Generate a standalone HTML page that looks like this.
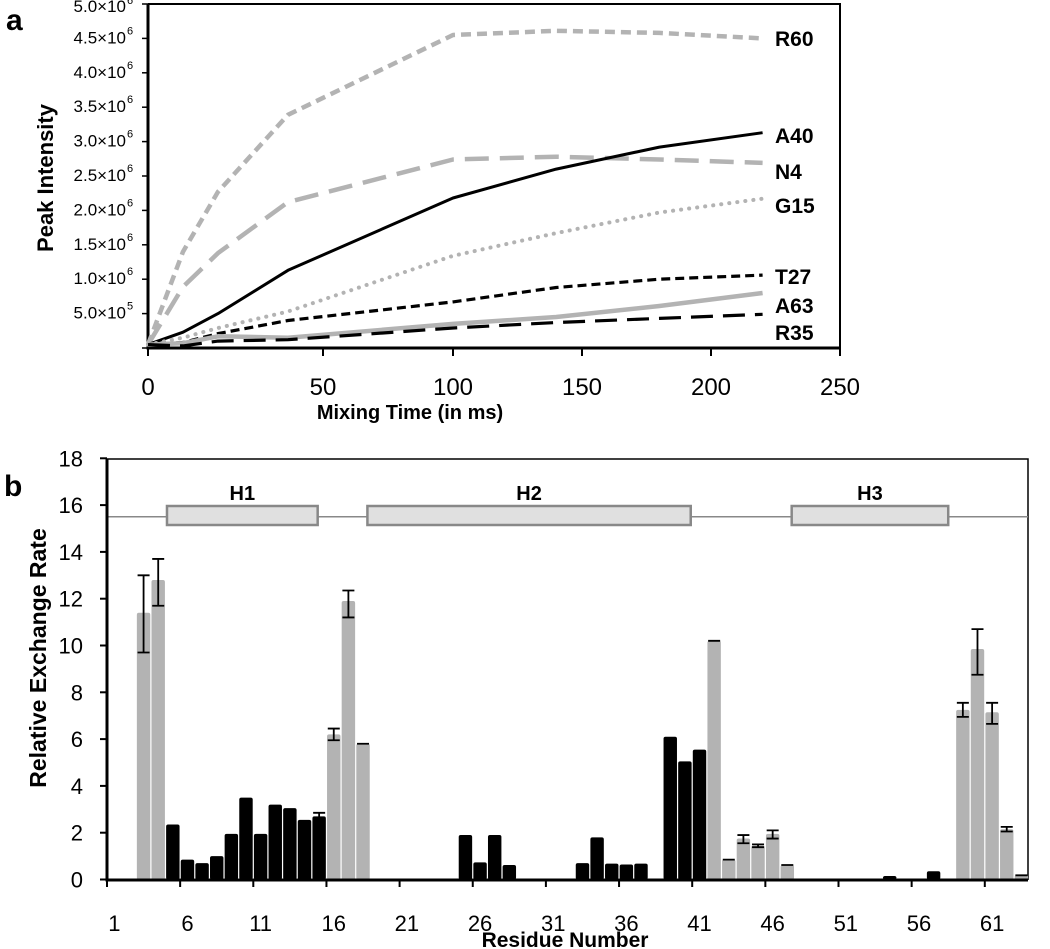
<!DOCTYPE html>
<html><head><meta charset="utf-8"><style>
body{margin:0;background:#fff}
svg{display:block}
text{font-family:"Liberation Sans",Arial,sans-serif}
</style></head><body>
<svg id="chart" width="1050" height="949" viewBox="0 0 1050 949" xmlns="http://www.w3.org/2000/svg">
<text x="6" y="30" font-size="30" font-weight="bold">a</text>
<text x="4" y="496" font-size="30" font-weight="bold">b</text>
<g id="pa"></g>
<g id="pb"></g>
</svg>
<script>
// ---------- Panel a data ----------
const timesA = [0, 10, 20, 40, 100, 140, 180, 220];
const seriesNames = ["R60", "N4", "A40", "G15", "T27", "A63", "R35"];
const valR60 = [0.05, 1.4, 2.27, 3.39, 4.55, 4.61, 4.58, 4.5];
const valN4 = [0.05, 0.89, 1.38, 2.12, 2.74, 2.78, 2.74, 2.69];
const valA40 = [0.05, 0.23, 0.5, 1.13, 2.18, 2.6, 2.92, 3.13];
const valG15 = [0.05, 0.15, 0.29, 0.53, 1.34, 1.67, 1.97, 2.17];
const valT27 = [0.05, 0.08, 0.21, 0.4, 0.67, 0.88, 1.0, 1.06];
const valA63 = [0.05, 0.07, 0.17, 0.15, 0.35, 0.45, 0.61, 0.8];
const valR35 = [0.05, 0.03, 0.1, 0.12, 0.29, 0.37, 0.43, 0.49];
const xTicksA = [0, 50, 100, 150, 200, 250];
const yTicksA = ["5.0×10", "1.0×10", "1.5×10", "2.0×10", "2.5×10", "3.0×10", "3.5×10", "4.0×10", "4.5×10", "5.0×10"];
const yTickValsA = [0.5, 1, 1.5, 2, 2.5, 3, 3.5, 4, 4.5, 5];

// ---------- Panel b data ----------
const residues = [];
for (let r = 1; r <= 63; r++) residues.push(r);
const grayRes = [3,4,16,17,18,42,43,44,45,46,47,59,60,61,62,63];
const rateVals = [0,0,11.4,12.8,2.35,0.85,0.7,1.0,1.95,3.5,1.95,3.2,3.05,2.55,2.7,6.2,11.9,5.8,0,0,0,0,0,0,1.9,0.73,1.9,0.62,0,0,0,0,0.7,1.8,0.68,0.64,0.68,0,6.1,5.05,5.55,10.2,0.85,1.75,1.45,1.95,0.62,0,0,0,0,0,0,0.15,0,0,0.35,0,7.25,9.85,7.15,2.15,0.18];
const errLo = {3:9.7,4:11.7,16:5.95,17:11.2,18:5.8,42:10.2,43:0.85,44:1.55,45:1.38,46:1.75,47:0.62,59:6.95,60:8.75,61:6.65,62:2.05,63:0.18,15:2.65};
const errHi = {3:13.0,4:13.7,16:6.45,17:12.35,18:5.8,42:10.2,43:0.85,44:1.9,45:1.5,46:2.1,47:0.62,59:7.55,60:10.7,61:7.55,62:2.25,63:0.18,15:2.85};
const xTickLabelsB = [1,6,11,16,21,26,31,36,41,46,51,56,61];
const yTicksB = [0,2,4,6,8,10,12,14,16,18];
const helixNames = ["H1","H2","H3"];
const helixStart = [5.1, 18.8, 47.8];
const helixEnd = [15.4, 40.9, 58.5];

const NS = "http://www.w3.org/2000/svg";
function mk(parent, tag, attrs, txt){const e=document.createElementNS(NS,tag);for(const k in attrs)e.setAttribute(k,attrs[k]);if(txt!==undefined)e.textContent=txt;parent.appendChild(e);return e;}

// ---------- Panel a ----------
const pa = document.getElementById('pa');
const knotV=[0,50,100,150,200,250], knotP=[148,323,453,582,711,840];
function xA(t){for(let i=0;i<knotV.length-1;i++){if(t<=knotV[i+1]){return knotP[i]+(t-knotV[i])/(knotV[i+1]-knotV[i])*(knotP[i+1]-knotP[i]);}}return knotP[knotP.length-1];}
function yA(v){return 348 - v*68.8;}
let fr = mk(pa,'path',{d:'M148 4 H840 V348',fill:'none',stroke:'#000','stroke-width':2});


let ax = mk(pa,'path',{d:'M148 4 V348 H840',fill:'none',stroke:'#000','stroke-width':3});


yTickValsA.forEach((v,i)=>{
  const y=yA(v);
  const tk=mk(pa,'line',{x1:142,x2:148,y1:y,y2:y,stroke:'#000','stroke-width':1.5});
  
  
  const t=mk(pa,'text',{x:126,y:y+(i===9?8:5),'font-size':17,'text-anchor':'end'},yTicksA[i]);
  
  
  const s=mk(pa,'text',{x:127,y:y+(i===9?0:-4),'font-size':11},i===0?'5':'6');
  
  
});
mk(pa,'line',{x1:142,x2:148,y1:348,y2:348,stroke:'#000','stroke-width':1.5});
xTicksA.forEach(v=>{
  const x=xA(v);
  const tk=mk(pa,'line',{x1:x,x2:x,y1:348,y2:356,stroke:'#000','stroke-width':2});
  
  
  const t=mk(pa,'text',{x:x,y:395,'font-size':24,'text-anchor':'middle'},String(v));
  
  
});
let xt=mk(pa,'text',{x:410,y:419,'font-size':20,'font-weight':'bold','text-anchor':'middle'},'Mixing Time (in ms)');


let yt=mk(pa,'text',{x:0,y:0,'font-size':22,'font-weight':'bold','text-anchor':'middle',transform:'translate(53,178) rotate(-90)'},'Peak Intensity');


const seriesVals=[valR60,valN4,valA40,valG15,valT27,valA63,valR35];
const styles=[
 {c:'#b3b3b3',w:4.5,d:'10 6',cap:'butt'},
 {c:'#b3b3b3',w:4.5,d:'24 11',cap:'butt'},
 {c:'#000',w:3,d:'',cap:'butt'},
 {c:'#b3b3b3',w:4,d:'0.1 8',cap:'round'},
 {c:'#000',w:3.2,d:'9 5',cap:'butt'},
 {c:'#b3b3b3',w:4.5,d:'',cap:'butt'},
 {c:'#000',w:3.2,d:'22 10',cap:'butt'}];
const labelY=[38,171,135,205,276,305,332];
seriesNames.forEach((n,si)=>{
  const vals=seriesVals[si];
  const d=vals.map((v,i)=>(i?'L':'M')+xA(timesA[i]).toFixed(1)+' '+yA(v).toFixed(1)).join(' ');
  const st=styles[si];
  const p=mk(pa,'path',{d:d,fill:'none',stroke:st.c,'stroke-width':st.w,'stroke-dasharray':st.d,'stroke-linecap':st.cap,'stroke-linejoin':'round'});
  
  
  const t=mk(pa,'text',{x:775,y:labelY[si]+8,'font-size':21,'font-weight':'bold'},n);
  
  
});

// ---------- Panel b ----------
const pb=document.getElementById('pb');
const X0=107, BW=14.63;
function xB(r){return X0+(r-1)*BW;}
function yB(v){return 879.5 - v*23.4;}
let frb=mk(pb,'path',{d:'M107 459 H1028 V880',fill:'none',stroke:'#000','stroke-width':1.5});


let hl=mk(pb,'line',{x1:108,x2:1028,y1:yB(15.5),y2:yB(15.5),stroke:'#888','stroke-width':1.5});


helixNames.forEach((h,i)=>{
  const x1=xB(helixStart[i]), x2=xB(helixEnd[i]);
  const r=mk(pb,'rect',{x:x1,y:506,width:x2-x1,height:19,fill:'#e0e0e0',stroke:'#888','stroke-width':2.5});
  
  
  const t=mk(pb,'text',{x:(x1+x2)/2,y:500,'font-size':20,'font-weight':'bold','text-anchor':'middle'},h);
  
  
});
residues.forEach((r,i)=>{
  const v=rateVals[i];
  if(v<=0)return;
  const gray=grayRes.indexOf(r)>=0;
  const b=mk(pb,'rect',{x:xB(r)+0.6,y:yB(v),width:BW-1.2,height:Math.max(0,yB(0)-yB(v)),fill:gray?'#b3b3b3':'#000',rx:2});
  
  
  if(errLo[r]!==undefined){
    const cx=xB(r)+BW/2, ylo=yB(errLo[r]), yhi=yB(errHi[r]);
    const e=mk(pb,'path',{d:`M${cx} ${yhi} V${ylo} M${cx-6} ${yhi} H${cx+6} M${cx-6} ${ylo} H${cx+6}`,stroke:'#000','stroke-width':1.8,fill:'none'});
    
    
  }
});
let axb=mk(pb,'path',{d:'M107 459 V880 H1028',fill:'none',stroke:'#000','stroke-width':3});


yTicksB.forEach(v=>{
  const y=yB(v);
  const tk=mk(pb,'line',{x1:100,x2:107,y1:y,y2:y,stroke:'#000','stroke-width':2});
  
  
  const t=mk(pb,'text',{x:83,y:y+8,'font-size':22,'text-anchor':'end'},String(v));
  
  
});
for(let k=1;k<=61;k+=5){
  const x=xB(k);
  const tk=mk(pb,'line',{x1:x,x2:x,y1:880,y2:887,stroke:'#000','stroke-width':2});
  
  
}
xTickLabelsB.forEach(k=>{
  const t=mk(pb,'text',{x:xB(k)+BW/2,y:931,'font-size':22,'text-anchor':'middle'},String(k));
  
  
});
let xtb=mk(pb,'text',{x:565,y:947,'font-size':21,'font-weight':'bold','text-anchor':'middle'},'Residue Number');


let ytb=mk(pb,'text',{x:0,y:0,'font-size':23,'font-weight':'bold','text-anchor':'middle',transform:'translate(46,658) rotate(-90)'},'Relative Exchange Rate');


</script>
</body></html>
